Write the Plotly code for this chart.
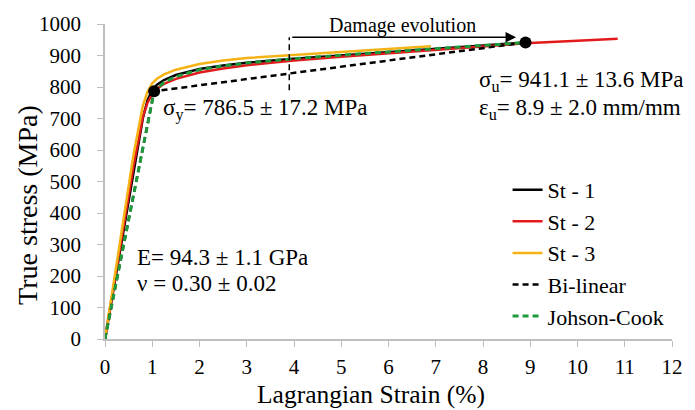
import plotly.graph_objects as go

# Specimen curves: Lagrangian strain (%) vs true stress (MPa)
strain_st1 = [0, 0.2, 0.4, 0.6, 0.8, 0.9, 1.0, 1.1, 1.25, 1.5, 2.0, 2.5, 3.0, 4.0, 5.0, 6.0, 7.0, 8.0, 8.9]
stress_st1 = [0, 178, 356, 534, 700, 758, 790, 807, 822, 838, 857, 868, 877, 890, 901, 912, 922, 932, 941]

strain_st2 = [0, 0.2, 0.4, 0.6, 0.8, 0.9, 1.0, 1.1, 1.25, 1.5, 2.0, 2.5, 3.0, 4.0, 5.0, 6.0, 7.0, 8.0, 9.0, 10.0, 10.85]
stress_st2 = [0, 182, 364, 546, 705, 750, 776, 794, 810, 826, 846, 859, 869, 884, 896, 907, 918, 929, 940, 947, 953]

strain_st3 = [0, 0.2, 0.4, 0.6, 0.8, 0.9, 1.0, 1.1, 1.25, 1.5, 2.0, 2.5, 3.0, 4.0, 5.0, 6.0, 6.9]
stress_st3 = [0, 194, 388, 582, 740, 785, 812, 826, 840, 855, 873, 884, 892, 902, 912, 921, 929]

# Material models
strain_bilinear = [0, 1.04, 8.9]
stress_bilinear = [0, 786.5, 941.1]

strain_jc = [0, 1.04, 1.25, 1.5, 2.0, 2.5, 3.0, 4.0, 5.0, 6.0, 7.0, 8.0, 8.9]
stress_jc = [0, 786.5, 815, 833, 855, 867, 876, 890, 901, 912, 922, 932, 941.1]

# Yield and ultimate points
key_strain = [1.04, 8.9]
key_stress = [786.5, 941.1]

# Damage evolution bracket
damage_start = 3.9
damage_end = 8.7
damage_level = 958
damage_base = 790

FONT = "Liberation Serif"
AXIS_GREY = "#bfbfbf"


def serif(size):
    return dict(family=FONT, size=size, color="black")


fig = go.Figure()
fig.add_trace(go.Scatter(x=strain_st1, y=stress_st1, mode="lines", name="St - 1",
                         line=dict(color="black", width=2.5)))
fig.add_trace(go.Scatter(x=strain_st2, y=stress_st2, mode="lines", name="St - 2",
                         line=dict(color="#e31a1c", width=2.5)))
fig.add_trace(go.Scatter(x=strain_st3, y=stress_st3, mode="lines", name="St - 3",
                         line=dict(color="#f5b316", width=2.5)))
fig.add_trace(go.Scatter(x=strain_bilinear, y=stress_bilinear, mode="lines", name="Bi-linear",
                         line=dict(color="black", width=2.5, dash="6px,4px")))
fig.add_trace(go.Scatter(x=strain_jc, y=stress_jc, mode="lines", name="Johson-Cook",
                         line=dict(color="#1e9a3c", width=3, dash="6px,4px")))
fig.add_trace(go.Scatter(x=key_strain, y=key_stress, mode="markers", showlegend=False,
                         marker=dict(color="black", size=12)))

# Damage evolution bracket: dashed vertical marker and arrow
fig.add_shape(type="line", x0=damage_start, x1=damage_start, y0=damage_base, y1=damage_level,
              line=dict(color="black", width=1.5, dash="6px,4px"))
fig.add_annotation(x=damage_end, y=damage_level, ax=damage_start, ay=damage_level,
                   xref="x", yref="y", axref="x", ayref="y", text=" ", font=serif(10),
                   showarrow=True, arrowhead=2, arrowsize=1.4, arrowwidth=1.5, arrowcolor="black")
fig.add_annotation(x=(damage_start + damage_end) / 2, y=994, text="Damage evolution",
                   showarrow=False, font=serif(20))

# Property labels
LABEL_SIZE = 23
fig.add_annotation(x=1.18, y=728, xanchor="left", text="σ<sub>y</sub>= 786.5 ± 17.2 MPa",
                   showarrow=False, font=serif(LABEL_SIZE))
fig.add_annotation(x=7.88, y=818, xanchor="left", text="σ<sub>u</sub>= 941.1 ± 13.6 MPa",
                   showarrow=False, font=serif(LABEL_SIZE))
fig.add_annotation(x=7.88, y=730, xanchor="left", text="ε<sub>u</sub>= 8.9 ± 2.0 mm/mm",
                   showarrow=False, font=serif(LABEL_SIZE))
fig.add_annotation(x=0.63, y=260, xanchor="left", text="E= 94.3 ± 1.1 GPa",
                   showarrow=False, font=serif(LABEL_SIZE))
fig.add_annotation(x=0.63, y=175, xanchor="left", text="ν = 0.30 ± 0.02",
                   showarrow=False, font=serif(LABEL_SIZE))

# Axis titles
fig.add_annotation(xref="paper", yref="paper", x=0.47, y=-0.177, yanchor="middle",
                   text="Lagrangian Strain (%)", showarrow=False, font=serif(25.5))
fig.add_annotation(xref="paper", yref="paper", x=-0.138, y=0.425, textangle=-90,
                   xanchor="center", yanchor="middle",
                   text="True stress (MPa)", showarrow=False, font=serif(28))

fig.update_layout(
    width=695, height=410,
    margin=dict(l=105, r=12, t=20, b=71),
    paper_bgcolor="white", plot_bgcolor="white",
    font=serif(21),
    showlegend=True,
    legend=dict(x=0.71, y=0.54, xanchor="left", yanchor="top",
                bgcolor="rgba(0,0,0,0)", font=serif(22), tracegroupgap=0),
    xaxis=dict(range=[0, 12], dtick=1, showgrid=False, zeroline=False,
               showline=True, linecolor=AXIS_GREY, linewidth=1.5,
               ticks="outside", tickcolor=AXIS_GREY, ticklen=6, tickwidth=1.2,
               tickfont=serif(21), ticklabelstandoff=2),
    yaxis=dict(range=[0, 1000], dtick=100, showgrid=False, zeroline=False,
               showline=True, linecolor=AXIS_GREY, linewidth=1.5,
               ticks="outside", tickcolor=AXIS_GREY, ticklen=6, tickwidth=1.2,
               tickfont=serif(21), ticklabelstandoff=12),
)

fig.write_html("out.html")
